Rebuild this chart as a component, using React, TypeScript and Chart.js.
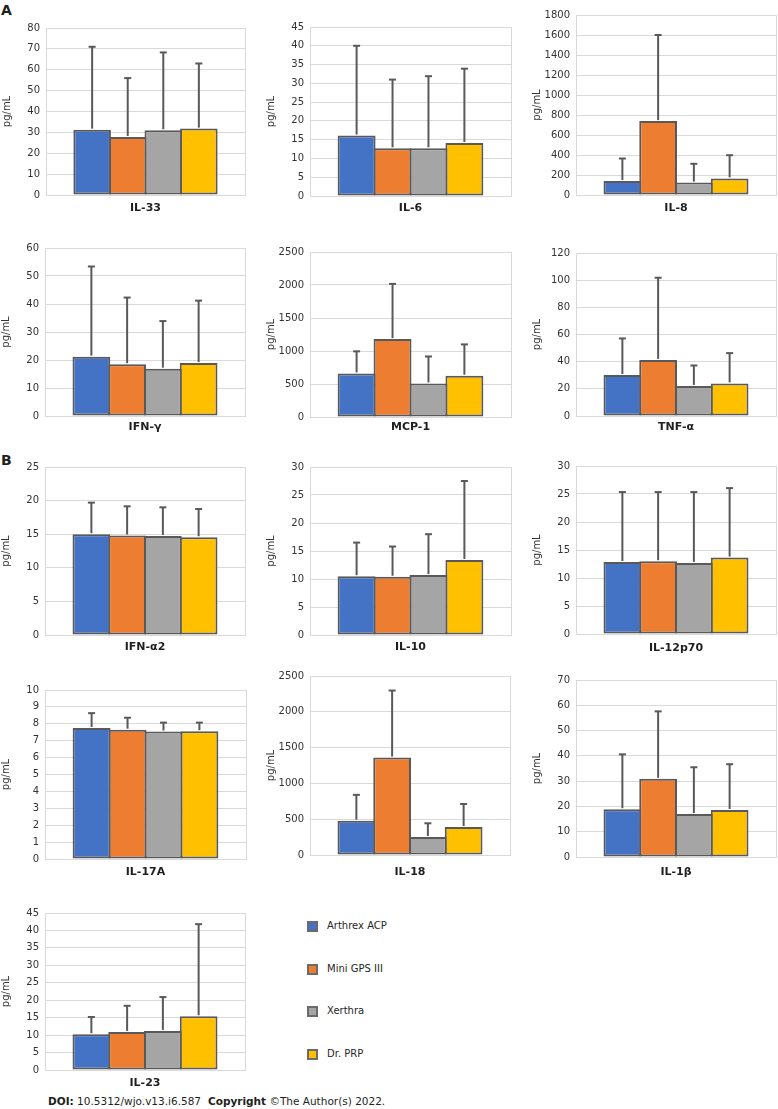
import React, { useEffect, useRef } from 'react';
import { Chart, registerables } from 'chart.js';

Chart.register(...registerables);

// ---------- data ----------
const devices = ['Arthrex ACP', 'Mini GPS III', 'Xerthra', 'Dr. PRP'];
const cytokines = ['IL-33', 'IL-6', 'IL-8', 'IFN-γ', 'MCP-1', 'TNF-α', 'IFN-α2', 'IL-10', 'IL-12p70', 'IL-17A', 'IL-18', 'IL-1β', 'IL-23'];
const axisMax = [80, 45, 1800, 60, 2500, 120, 25, 30, 30, 10, 2500, 70, 45];
const axisStep = [10, 5, 200, 10, 500, 20, 5, 5, 5, 1, 500, 10, 5];

const arthrexMean = [31.3, 16.1, 140, 21.2, 660, 30.2, 15.0, 10.5, 12.85, 7.75, 479, 18.9, 10.25];
const miniGpsMean = [27.8, 12.7, 739, 18.5, 1180, 41.3, 14.8, 10.4, 13.0, 7.65, 1361, 30.9, 10.9];
const xerthraMean = [31.0, 12.7, 124, 16.9, 508, 22.1, 14.75, 10.7, 12.7, 7.54, 250, 17.0, 11.2];
const drPrpMean = [31.8, 14.1, 166, 18.9, 626, 24.0, 14.55, 13.4, 13.65, 7.56, 390, 18.6, 15.4];

const arthrexSd = [39.7, 23.9, 225, 32.2, 335, 26.9, 4.7, 6.0, 12.5, 0.88, 361, 21.7, 4.95];
const miniGpsSd = [28.2, 18.3, 861, 23.8, 837, 60.5, 4.35, 5.4, 12.35, 0.71, 936, 26.7, 7.5];
const xerthraSd = [37.3, 19.2, 188, 17.0, 409, 15.1, 4.25, 7.3, 12.65, 0.53, 193, 18.5, 9.7];
const drPrpSd = [31.2, 19.8, 232, 22.3, 474, 22.3, 4.2, 14.1, 12.4, 0.51, 322, 18.1, 26.4];

// ---------- layout / style ----------
const seriesMeans = [arthrexMean, miniGpsMean, xerthraMean, drPrpMean];
const seriesSds = [arthrexSd, miniGpsSd, xerthraSd, drPrpSd];
const colors = ['#4472C4', '#ED7D31', '#A5A5A5', '#FFC000'];
const outline = '#595959';
const gridColor = '#d9d9d9';
const FONT = "'DejaVu Sans', Verdana, sans-serif";

// plot area boxes in page pixels: left, top, right, bottom, category label center y
const panelBoxes = [
  [46, 24, 245, 195, 208],
  [310, 23, 511, 196, 208],
  [576, 11, 776, 195, 208],
  [45, 244, 245, 416, 427],
  [310, 248, 511, 417, 427],
  [576, 249, 776, 416, 427],
  [45, 463, 245, 635, 647],
  [310, 463, 511, 635, 647],
  [576, 462, 776, 634, 648],
  [45, 686, 246, 859, 872],
  [310, 672, 510, 855, 872],
  [576, 676, 776, 857, 872],
  [45, 909, 245, 1070, 1083],
];

const Y_AXIS_W = 46;
const PAD_TOP = 8;
const PAD_RIGHT = 2;
const X_FONT = 11;

const errorBarPlugin = {
  id: 'errorBars',
  afterDatasetsDraw(chart: any) {
    const { ctx } = chart;
    const y = chart.scales.y;
    chart.data.datasets.forEach((ds: any, di: number) => {
      const meta = chart.getDatasetMeta(di);
      meta.data.forEach((bar: any, i: number) => {
        const mean = ds.data[i];
        const sd = ds.sd[i];
        const yTop = y.getPixelForValue(mean + sd);
        const yBase = y.getPixelForValue(mean);
        ctx.save();
        ctx.strokeStyle = outline;
        ctx.lineWidth = 2;
        ctx.beginPath();
        ctx.moveTo(bar.x, yBase - 1);
        ctx.lineTo(bar.x, yTop);
        ctx.stroke();
        ctx.beginPath();
        ctx.moveTo(bar.x - 3.5, yTop);
        ctx.lineTo(bar.x + 3.5, yTop);
        ctx.stroke();
        ctx.restore();
      });
    });
  },
};

function Panel({ index }: { index: number }) {
  const ref = useRef<HTMLCanvasElement>(null);
  const [L, T, R, B, labelY] = panelBoxes[index];
  const xAxisH = Math.round(labelY - B + 10);
  const w = R - L + Y_AXIS_W + PAD_RIGHT;
  const h = B - T + PAD_TOP + xAxisH;
  const xPad = labelY - B - (X_FONT * 1.2) / 2;

  useEffect(() => {
    const chart = new Chart(ref.current as HTMLCanvasElement, {
      type: 'bar',
      data: {
        labels: [cytokines[index]],
        datasets: devices.map((d, k) => ({
          label: d,
          data: [seriesMeans[k][index]],
          sd: [seriesSds[k][index]],
          backgroundColor: colors[k],
          borderColor: outline,
          borderWidth: 2,
          borderSkipped: false,
          categoryPercentage: 0.715,
          barPercentage: 1.056,
        })) as any,
      },
      options: {
        responsive: false,
        animation: false,
        events: [],
        layout: { padding: { left: 0, top: PAD_TOP, right: PAD_RIGHT, bottom: 0 } },
        plugins: { legend: { display: false }, tooltip: { enabled: false }, title: { display: false } },
        scales: {
          x: {
            type: 'category',
            grid: { display: true, color: gridColor, lineWidth: 1, drawTicks: false, offset: true },
            border: { display: true, color: gridColor, width: 1 },
            ticks: {
              font: { family: FONT, size: X_FONT, weight: 'bold' },
              color: '#1f1f1f',
              padding: xPad,
              maxRotation: 0,
              autoSkip: false,
            },
            afterFit: (s: any) => {
              s.height = xAxisH;
            },
          },
          y: {
            min: 0,
            max: axisMax[index],
            grid: { color: gridColor, lineWidth: 1, drawTicks: false },
            border: { display: true, color: gridColor, width: 1 },
            ticks: {
              stepSize: axisStep[index],
              font: { family: FONT, size: 10 },
              color: '#333333',
              padding: 6,
              callback: (v: any) => String(v),
            },
            title: {
              display: true,
              text: 'pg/mL',
              font: { family: FONT, size: 10 },
              color: '#333333',
              padding: { top: 1, bottom: 0 },
            },
            afterFit: (s: any) => {
              s.width = Y_AXIS_W;
            },
          },
        } as any,
      },
      plugins: [errorBarPlugin],
    } as any);
    return () => chart.destroy();
  }, [index]);

  return (
    <canvas
      ref={ref}
      width={w}
      height={h}
      style={{ position: 'absolute', left: L - Y_AXIS_W, top: T - PAD_TOP, width: w, height: h }}
    />
  );
}

const legendY = [926, 969, 1011, 1054];

export default function App() {
  return (
    <div
      style={{
        position: 'absolute',
        left: 0,
        top: 0,
        width: 778,
        height: 1109,
        overflow: 'hidden',
        background: '#ffffff',
        fontFamily: FONT,
      }}
    >
      <div style={{ position: 'absolute', left: 1, top: 3, fontSize: 14, lineHeight: '14px', fontWeight: 'bold', color: '#231f20' }}>A</div>
      <div style={{ position: 'absolute', left: 1, top: 453, fontSize: 14, lineHeight: '14px', fontWeight: 'bold', color: '#231f20' }}>B</div>
      {cytokines.map((c, i) => (
        <Panel key={c} index={i} />
      ))}
      {devices.map((d, i) => (
        <div
          key={d}
          style={{ position: 'absolute', left: 307, top: legendY[i] - 6, height: 12, display: 'flex', alignItems: 'center' }}
        >
          <div style={{ width: 11, height: 11, boxSizing: 'border-box', border: '2px solid #6b6b6b', background: colors[i] }} />
          <span style={{ marginLeft: 9, fontSize: 10, lineHeight: '12px', color: '#262626', whiteSpace: 'nowrap' }}>{d}</span>
        </div>
      ))}
      <div style={{ position: 'absolute', left: 48, top: 1095, fontSize: 10.5, lineHeight: '12px', color: '#231f20', whiteSpace: 'nowrap' }}>
        <b>DOI:</b> 10.5312/wjo.v13.i6.587
      </div>
      <div style={{ position: 'absolute', left: 208, top: 1095, fontSize: 10.5, lineHeight: '12px', color: '#231f20', whiteSpace: 'nowrap' }}>
        <b>Copyright</b> ©The Author(s) 2022.
      </div>
    </div>
  );
}
